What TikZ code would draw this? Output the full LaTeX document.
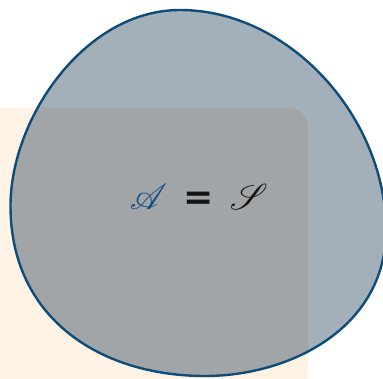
\documentclass[tikz,border=0pt]{standalone}
\usepackage{fontspec}
\usepackage{mathrsfs}
\newfontfamily\eqfont{DejaVu Sans}
\definecolor{rectfill}{HTML}{FFF3E6}
\definecolor{blobfill}{HTML}{A3AFB9}
\definecolor{blobover}{HTML}{A2A5A8}
\definecolor{blobline}{HTML}{0E4C7A}
\definecolor{ablue}{HTML}{124F80}
\definecolor{textdark}{HTML}{141414}
\tikzset{
  bloboutline/.style={draw=blobline, line width=2.4pt},
}
\def\blobpath{(180,368) .. controls (290,368) and (386,260) .. (386,148)
  .. controls (386,50) and (290,2) .. (205,2)
  .. controls (100,2) and (10.5,60) .. (10.5,172)
  .. controls (10.5,260) and (85,368) .. (180,368) -- cycle}
\begin{document}
\begin{tikzpicture}[x=1pt,y=1pt]
\useasboundingbox (0,0) rectangle (383,378);
\clip (0,0) rectangle (383,378);
\fill[white] (0,0) rectangle (383,378);
\fill[rectfill, rounded corners=20pt] (-40,-40) rectangle (308,270);
\fill[blobfill] \blobpath;
\begin{scope}
  \clip[rounded corners=20pt] (-40,-40) rectangle (308,270);
  \fill[blobover] \blobpath;
\end{scope}
\draw[bloboutline] \blobpath;
\node[anchor=base, scale=1.45, inner sep=0pt] (eq) at (199,168) {\Huge\textcolor{ablue}{$\mathscr{A}$}\hspace{0.45em}{\color{textdark}\eqfont\bfseries =}\hspace{0.45em}{\color{textdark}$\mathscr{S}$}};
\end{tikzpicture}
\end{document}
